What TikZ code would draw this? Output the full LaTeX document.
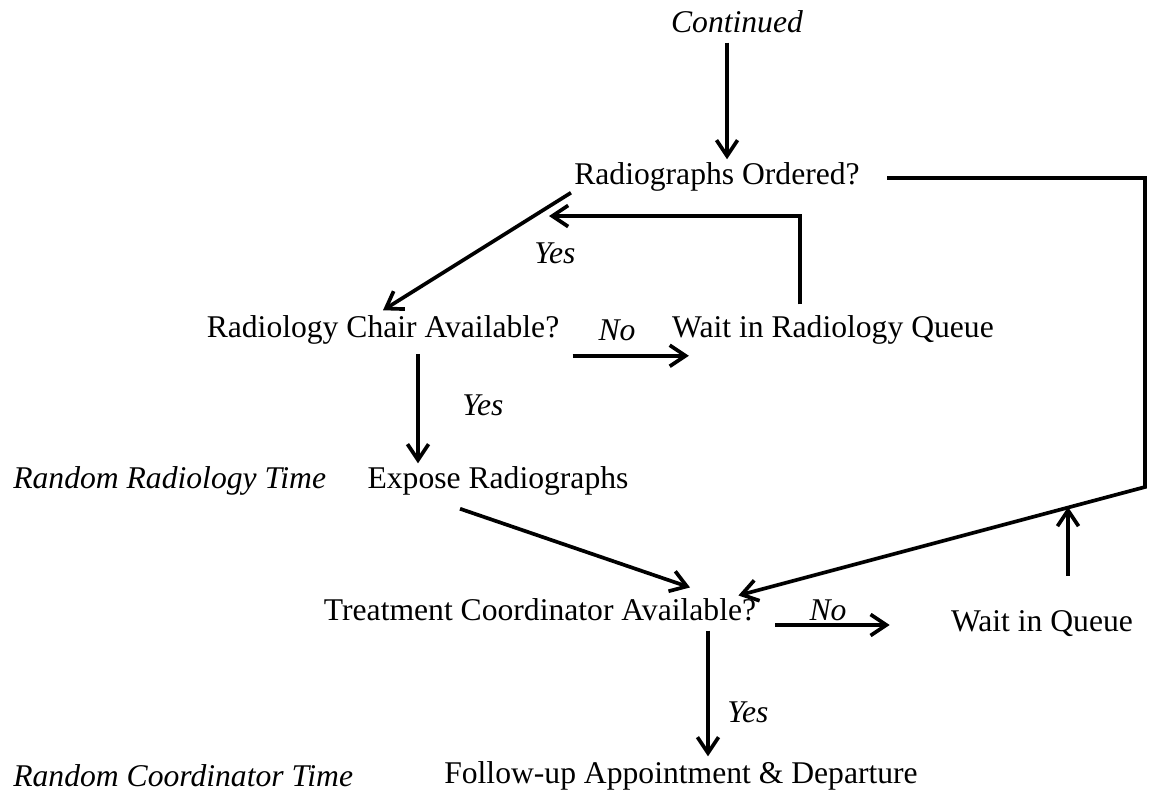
\documentclass[tikz,border=0pt]{standalone}
\usepackage{fontspec}
\setmainfont{Liberation Serif}
\usetikzlibrary{arrows.meta,calc,positioning}

\begin{document}
\begin{tikzpicture}[x=0.02cm,y=-0.02cm,>={Straight Barb[length=9pt,width=12pt]},line width=2.1pt,
  step box/.style={inner sep=2pt,font=\fontsize{18}{22}\selectfont},
  note/.style={inner sep=2pt,font=\fontsize{18}{22}\selectfont\itshape}]
  \useasboundingbox (0,0) rectangle (1165,809);

  % Steps
  \node[note] (cont) at (737,22) {Continued};
  \node[step box] (rord) at (717,177) {Radiographs Ordered?};
  \node[step box] (rchair) at (383,330) {Radiology Chair Available?};
  \node[step box] (rwait) at (833,330) {Wait in Radiology Queue};
  \node[note,anchor=west] (rtime) at (8,481) {Random Radiology Time};
  \node[step box] (expose) at (498,481) {Expose Radiographs};
  \node[step box] (tcoord) at (540,610) {Treatment Coordinator Available?};
  \node[step box] (qwait) at (1042,624) {Wait in Queue};
  \node[note,anchor=west] (ctime) at (8,776) {Random Coordinator Time};
  \node[step box] (follow) at (681,776) {Follow-up Appointment \& Departure};

  % Branch labels
  \node[note] (yesa) at (555,253) {Yes};
  \node[note] (noa) at (617,330) {No};
  \node[note] (yesb) at (483,405) {Yes};
  \node[note] (nob) at (828,610) {No};
  \node[note] (yesc) at (748,712) {Yes};

  % Joins
  \coordinate (rjoin) at (549,216);
  \coordinate (rcorner) at (1145,487);
  \coordinate (qjoin) at (1068,507);

  % Radiology part
  \draw[->] ($(cont.south)+(-10,4)$) -- ($(rord.north)+(10,2)$);
  \draw[->] ($(rord.south west)+(2,-4)$) -- (rchair.north);
  \draw[->] ($(rwait.north)+(-33,-6)$) |- (rjoin);
  \draw[->] ($(rchair.south east)+(8,6)$) -- ($(rwait.south west)+(22,6)$);
  \draw[->] ($(rchair.south)+(35,4)$) -- ($(expose.north)+(-80,2)$);

  % Coordinator part
  \draw[->] ($(expose.south)+(-38,8)$) -- ($(tcoord.north)+(150,-6)$);
  \draw[->] ($(rord.east)+(22,1)$) -| (rcorner) -- ($(tcoord.north east)+(-23,2)$);
  \draw[->] ($(qwait.north)+(26,-30)$) -- (qjoin);
  \draw[->] ($(tcoord.east)+(14,15)$) -- ($(qwait.west)+(-56,1)$);
  \draw[->] ($(tcoord.south)+(168,4)$) -- ($(follow.north)+(27,0)$);
\end{tikzpicture}
\end{document}
